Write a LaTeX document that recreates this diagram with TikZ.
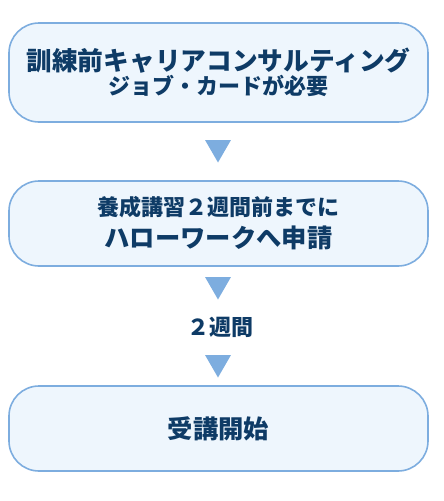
\documentclass[tikz,border=0pt]{standalone}
\usepackage{fontspec}
\setmainfont{Noto Sans CJK JP}
\usepackage{xcolor}
\usepackage{tikz}
\usetikzlibrary{shapes.geometric, positioning}
\definecolor{flowblue}{RGB}{125,173,223}
\definecolor{flowfill}{RGB}{238,246,253}
\definecolor{flownavy}{RGB}{14,59,102}
\tikzset{
  stepbox/.style={
    rectangle, rounded corners=30pt, minimum width=419pt, minimum height=85pt,
    draw=flowblue, fill=flowfill, line width=1.6pt, align=center,
    text=flownavy, font=\bfseries, inner sep=0pt
  },
  downmark/.style={
    regular polygon, regular polygon sides=3, shape border rotate=180,
    minimum size=30pt, inner sep=0pt, fill=flowblue, draw=none
  },
  gaplabel/.style={text=flownavy, font=\bfseries\fontsize{22}{26}\selectfont}
}
\begin{document}
\begin{tikzpicture}[x=1pt, y=-1pt]
  \useasboundingbox (0,0) rectangle (444,501);
  % ── Step 1: Consulting ───────────────────────────────────────────
  \node[stepbox, minimum height=99pt] (consult) at (218.5, 72.5)
    {\fontsize{25.7}{26}\selectfont 訓練前キャリアコンサルティング\\[1pt]
     \fontsize{22}{26}\selectfont ジョブ・カードが必要};

  \node[downmark] (mark1) at (218, 147.5) {};

  % ── Step 2: Application ──────────────────────────────────────────
  \node[stepbox] (apply) at (218.5, 223.5)
    {\fontsize{22}{22}\selectfont 養成講習２週間前までに\\[7pt]
     \fontsize{25.3}{26}\selectfont ハローワークへ申請};

  \node[downmark] (mark2) at (218, 284.5) {};
  \node[gaplabel] (twoweeks) at (220.5, 327) {２週間};
  \node[downmark] (mark3) at (218, 362.5) {};

  % ── Step 3: Start ────────────────────────────────────────────────
  \node[stepbox] (start) at (218.5, 428.5)
    {\fontsize{25.3}{30}\selectfont 受講開始};
\end{tikzpicture}
\end{document}
